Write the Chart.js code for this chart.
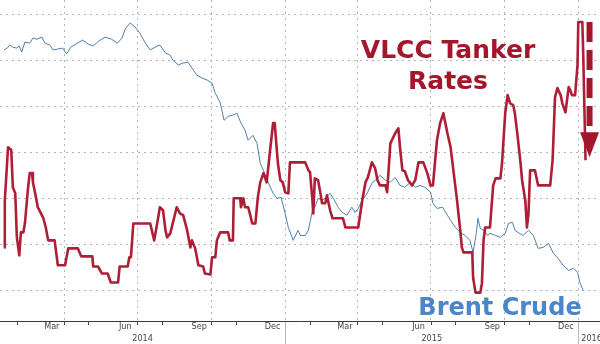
<!DOCTYPE html>
<html>
<head>
<meta charset="utf-8">
<script src="https://cdn.jsdelivr.net/npm/chart.js@4.4.1/dist/chart.umd.min.js"></script>
<style>
  html, body { margin: 0; padding: 0; background: #fff; }
</style>
</head>
<body>
<canvas id="tankerChart" width="600" height="344"></canvas>
<script>
// x values are days counted from 1 Jan 2014
const brentDays = [15,19,22,26,31,34,37,41,47,51,56,62,66,72,76,82,88,93,98,106,
  113,120,126,133,141,149,156,162,166,172,178,184,191,197,206,209,216,222,225,232,
  237,244,249,255,262,268,274,278,284,289,294,300,305,310,315,319,325,330,334,338,
  344,350,355,360,365,369,375,381,384,390,394,399,402,406,411,415,421,425,431,436,
  442,448,452,456,461,467,473,480,483,490,496,502,508,514,521,527,533,539,546,549,
  554,561,567,571,577,583,589,595,599,603,605,608,612,617,620,627,633,639,643,648,
  651,655,661,668,674,680,686,693,699,705,711,718,724,729,732,736];
const brentPrice = [108.3,108.9,109.9,109.2,108.9,109.6,107.6,110.9,110.5,112.2,
  111.8,112.5,110.5,109.9,108.3,108.6,108.9,107.0,109.2,110.5,
  111.5,110.2,109.6,111.2,112.5,111.8,110.5,112.2,115.1,117.1,
  115.8,113.8,110.5,108.3,109.6,109.9,107.3,106.6,105.0,103.4,
  104.0,104.3,102.4,100.1,99.1,98.5,97.5,94.2,91.3,85.4,
  86.7,87.1,87.7,84.5,82.2,78.9,80.5,77.9,71.4,69.1,
  65.2,61.6,60.0,60.3,55.1,50.5,46.3,49.6,47.9,47.9,
  49.6,56.1,57.1,60.0,59.3,60.0,61.6,60.0,57.1,55.4,
  54.5,57.1,55.4,56.7,59.3,61.6,64.9,66.5,67.5,65.9,
  65.2,66.8,64.2,63.6,65.2,63.6,64.2,63.6,62.0,58.4,
  56.7,57.1,54.5,52.8,50.5,48.9,47.9,46.3,42.4,48.6,
  53.5,50.2,49.6,47.9,48.6,47.9,47.3,48.6,51.8,52.2,
  49.6,48.9,47.9,49.6,47.9,43.7,44.0,45.3,42.1,40.4,
  38.2,36.5,37.2,35.9,32.6,30.0];

const vlccDays = [15,16,20,24,26,29,31,34,36,39,41,45,47,50,51,55,57,61,64,67,
  70,78,82,91,95,107,111,125,126,132,137,144,148,157,159,169,171,173,176,197,
  199,202,207,209,213,216,218,222,225,230,234,238,243,247,249,253,257,263,265,272,
  274,278,280,284,294,296,300,301,309,310,313,315,319,321,324,328,331,334,338,342,
  346,350,352,356,359,362,365,369,371,390,394,396,399,400,402,406,409,411,415,417,
  421,424,437,440,456,461,465,468,473,477,480,483,490,492,496,502,506,508,511,514,
  518,523,527,531,537,542,546,549,554,558,562,567,571,574,579,583,585,587,598,599,
  602,608,610,612,614,620,624,627,633,635,639,642,645,649,651,654,658,660,664,666,
  668,670,676,680,695,698,701,704,708,710,714,716,718,720,722,726,729,730,735,736,739];
const vlccRates = [34.0,49.3,66.6,65.7,53.6,51.6,37.3,31.4,38.9,38.9,
  41.8,53.6,58.2,58.2,55.2,50.0,47.1,45.1,43.5,40.5,
  36.3,36.3,28.2,28.2,33.7,33.7,31.1,31.1,27.8,27.8,
  25.5,25.5,22.6,22.6,27.8,27.8,30.8,30.8,41.8,41.8,
  39.6,36.3,43.8,47.1,46.1,39.6,37.3,38.6,41.8,47.1,
  45.1,44.5,39.6,34.0,36.3,33.7,28.2,27.8,25.5,25.2,
  30.8,30.8,36.3,38.9,38.9,36.3,36.3,50.0,50.0,47.1,
  50.0,47.1,47.1,45.1,41.8,41.8,50.3,55.2,58.2,55.2,
  65.0,74.5,74.5,61.4,55.9,55.2,52.0,51.6,61.7,61.7,
  59.1,58.5,49.3,45.1,56.5,55.9,51.6,48.4,48.4,51.0,
  46.1,43.5,43.5,40.5,40.5,49.3,55.2,56.8,61.7,59.8,
  55.9,54.2,54.2,52.0,67.9,71.2,72.8,66.6,59.1,58.8,
  55.9,54.2,55.9,61.7,61.7,58.2,54.2,54.2,68.9,74.5,
  77.7,71.2,66.6,60.1,49.3,39.6,34.0,32.4,32.4,24.2,
  19.3,19.3,22.3,36.3,40.5,40.5,54.2,56.5,56.5,61.4,
  77.7,83.6,81.0,80.3,77.7,71.2,61.7,55.9,49.3,40.5,
  45.1,59.1,59.1,54.2,54.2,62.4,82.9,85.9,83.6,81.0,
  78.0,82.0,86.2,85.2,83.6,83.6,93.4,107.4,107.4,98.3,62.4];

const brentGrid = [30, 45, 60, 75, 90, 105, 120];
const monthLabels = ['Mar', 'Jun', 'Sep', 'Dec'];
const monthIdx = [2, 5, 8, 11];
const yearLabels = ['2014', '2015', '2016'];

const X_MIN = 10, X_MAX = 757;

const dayOf = (y, m, d) => Math.round((Date.UTC(y, m, d) - Date.UTC(2014, 0, 1)) / 864e5);

const monthStarts = [];
for (let y = 2014; y <= 2016; y++) {
  for (let m = 0; m < 12; m++) {
    const d = dayOf(y, m, 1);
    if (d >= X_MIN && d <= X_MAX) monthStarts.push({ d, m });
  }
}
const quarterDays = monthStarts.filter(s => s.m % 3 === 0).map(s => s.d);

// month/year labels under the axis
const dateAxis = {
  id: 'dateAxis',
  afterDraw(chart) {
    const { ctx, chartArea, scales: { x } } = chart;
    const base = chartArea.bottom;
    ctx.save();
    ctx.strokeStyle = '#444';
    ctx.lineWidth = 1;
    monthStarts.forEach(s => {
      if (s.m % 3 === 2) return;
      const px = Math.round(x.getPixelForValue(s.d)) + 0.5;
      ctx.beginPath();
      ctx.moveTo(px, base);
      ctx.lineTo(px, base + 4);
      ctx.stroke();
    });

    ctx.fillStyle = '#444';
    ctx.font = '9px "DejaVu Sans Condensed", "DejaVu Sans", sans-serif';
    ctx.textAlign = 'center';
    ctx.textBaseline = 'middle';
    [2014, 2015].forEach(y => {
      monthIdx.forEach((m, i) => {
        const mid = (dayOf(y, m, 1) + dayOf(y, m + 1, 1)) / 2;
        ctx.fillText(monthLabels[i], x.getPixelForValue(mid), base + 6);
      });
    });

    const j15 = x.getPixelForValue(dayOf(2015, 0, 1));
    const j16 = x.getPixelForValue(dayOf(2016, 0, 1));
    ctx.fillText(yearLabels[0], (chartArea.left + j15) / 2, base + 18);
    ctx.fillText(yearLabels[1], (j15 + j16) / 2, base + 18);
    ctx.textAlign = 'left';
    ctx.fillText(yearLabels[2], j16 + 3, base + 18);

    ctx.strokeStyle = '#bbb';
    [j15, j16].forEach(px => {
      const p = Math.round(px) + 0.5;
      ctx.beginPath();
      ctx.moveTo(p, base + 1);
      ctx.lineTo(p, chart.height);
      ctx.stroke();
    });
    ctx.restore();
  }
};

// big series captions and the down arrow
const notes = {
  id: 'notes',
  afterDatasetsDraw(chart) {
    const { ctx, scales: { x, y1 } } = chart;
    ctx.save();
    ctx.textAlign = 'center';
    ctx.textBaseline = 'alphabetic';
    ctx.fillStyle = '#a3162c';
    ctx.font = 'bold 25px "DejaVu Sans", Verdana, sans-serif';
    ctx.fillText('VLCC Tanker', 448, 58);
    ctx.fillText('Rates', 448, 89);
    ctx.fillStyle = '#4a86c8';
    ctx.font = 'bold 24px "DejaVu Sans", Verdana, sans-serif';
    ctx.fillText('Brent Crude', 500, 315);

    const ax = x.getPixelForValue(744);
    ctx.strokeStyle = '#a3162c';
    ctx.lineWidth = 6;
    ctx.setLineDash([20, 8]);
    ctx.beginPath();
    ctx.moveTo(ax, y1.getPixelForValue(107.4));
    ctx.lineTo(ax, y1.getPixelForValue(73));
    ctx.stroke();
    ctx.fillStyle = '#a3162c';
    const hb = y1.getPixelForValue(71.5);
    ctx.beginPath();
    ctx.moveTo(ax - 9.5, hb);
    ctx.lineTo(ax + 9.5, hb);
    ctx.lineTo(ax, y1.getPixelForValue(63.4));
    ctx.closePath();
    ctx.fill();
    ctx.restore();
  }
};

const gridStyle = { color: '#b4b4b4', lineWidth: 1, drawTicks: false };

new Chart(document.getElementById('tankerChart'), {
  type: 'line',
  data: {
    datasets: [
      {
        label: 'VLCC Tanker Rates',
        data: vlccDays.map((d, i) => ({ x: d, y: vlccRates[i] })),
        yAxisID: 'y1',
        borderColor: '#ae1e36',
        borderWidth: 2.6,
        borderJoinStyle: 'round',
        pointRadius: 0,
        tension: 0
      },
      {
        label: 'Brent Crude',
        data: brentDays.map((d, i) => ({ x: d, y: brentPrice[i] })),
        yAxisID: 'y',
        borderColor: '#4f7fae',
        borderWidth: 1,
        pointRadius: 0,
        tension: 0
      }
    ]
  },
  options: {
    responsive: false,
    animation: false,
    layout: { padding: { left: 0, right: 0, top: 0, bottom: 23 } },
    plugins: { legend: { display: false }, tooltip: { enabled: false } },
    scales: {
      x: {
        type: 'linear',
        min: X_MIN,
        max: X_MAX,
        afterBuildTicks: s => { s.ticks = quarterDays.map(v => ({ value: v })); },
        ticks: { display: false },
        grid: gridStyle,
        border: { display: true, color: '#3a3a3a', width: 1, dash: [2, 4] }
      },
      y: {
        position: 'left',
        min: 20.05,
        max: 124.57,
        afterBuildTicks: s => { s.ticks = brentGrid.map(v => ({ value: v })); },
        ticks: { display: false },
        grid: gridStyle,
        border: { display: false, dash: [2, 4] }
      },
      y1: {
        display: false,
        min: 10.05,
        max: 114.57
      }
    }
  },
  plugins: [dateAxis, notes]
});
</script>
</body>
</html>
